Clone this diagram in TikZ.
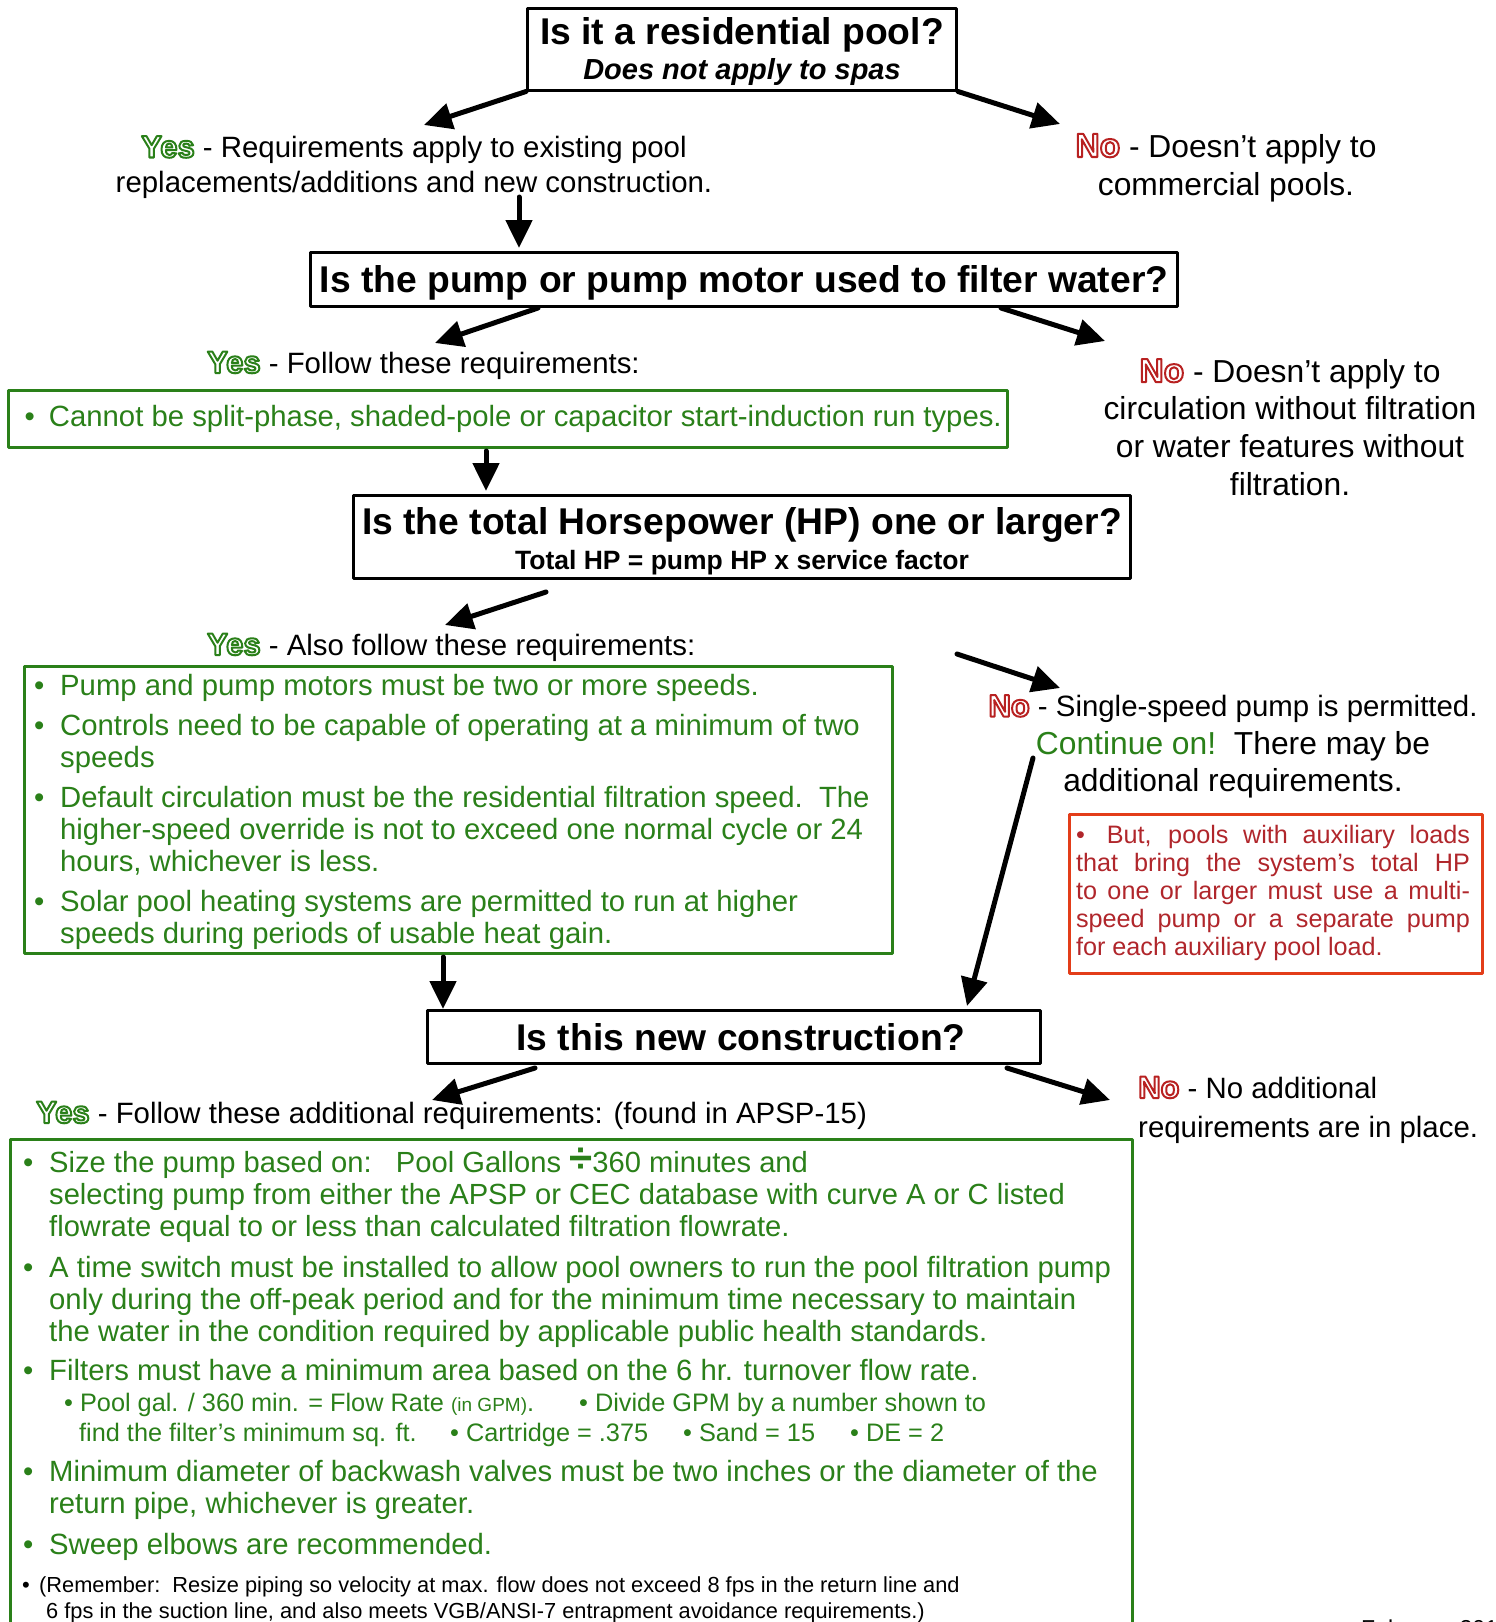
\documentclass[tikz,border=0pt]{standalone}
\usepackage{fontspec}
\setmainfont{Liberation Sans}
\usetikzlibrary{arrows.meta}
\definecolor{saxfra}{rgb}{0.165,0.5,0.1}
\definecolor{bsssss}{rgb}{0.72,0.13,0.13}
\definecolor{estdrb}{rgb}{0.89,0.24,0.1}
\definecolor{bqsasa}{rgb}{0.69,0.15,0.17}
% outlined Yes / No (stroked glyphs)
\newcommand{\yesmark}[1][31]{{\fontsize{#1}{35}\selectfont\bfseries\special{pdf:code 1 Tr 2 w 0.165 0.5 0.1 RG}Yes\special{pdf:code 0 Tr 0 G}}}
\newcommand{\nomark}[1][31]{{\fontsize{#1}{35}\selectfont\bfseries\special{pdf:code 1 Tr 2 w 0.72 0.13 0.13 RG}No\special{pdf:code 0 Tr 0 G}}}
\tikzset{
  qbox/.style={draw,line width=3pt,inner sep=0pt,align=center,font=\fontsize{37.25}{35}\selectfont\bfseries},
  reqbox/.style={draw=saxfra,line width=3pt,inner sep=0pt},
  txt/.style={inner sep=0pt,font=\fontsize{29.4}{35}\selectfont},
  bigtxt/.style={inner sep=0pt,font=\fontsize{31.8}{38}\selectfont},
  reqtxt/.style={inner sep=0pt,align=left,text=saxfra,font=\fontsize{29.3}{32}\selectfont},
  subtxt/.style={inner sep=0pt,text=saxfra,font=\fontsize{25.3}{30}\selectfont},
}
\begin{document}
\begin{tikzpicture}[line cap=round,line join=round,>={Triangle[length=28pt,width=26pt]},x=1pt,y=-1pt]
\useasboundingbox (0,0) rectangle (1496,1622);
\clip (0,0) rectangle (1496,1622);
%% questions
\node (q1) [qbox,minimum width=429pt,minimum height=82pt] at (742,49) {\rule{0pt}{33pt}Is it a residential pool?\\{\fontsize{29}{35}\selectfont\itshape Does not apply to spas}};
\node (q2) [qbox,minimum width=867pt,minimum height=54pt] at (744,279) {\rule{0pt}{35pt}Is the pump or pump motor used to filter water?};
\node (q3) [qbox,minimum width=777pt,minimum height=83pt] at (742,537) {\rule{0pt}{35pt}Is the total Horsepower (HP) one or larger?\\{\fontsize{26.5}{35}\selectfont Total HP = pump HP x service factor}};
\node (q4) [qbox,minimum width=613pt,minimum height=53pt] at (734,1037) {\hspace{14pt}Is this new construction?};
%% answers
\node (yesres) [txt,align=center,anchor=base] at (414,192.5) {\yesmark{} - Requirements apply to existing pool\\replacements/additions and new construction.};
\node (nores) [bigtxt,align=center,anchor=base] at (1226,195) {\nomark[33.5]{} - Doesn’t apply to\\commercial pools.};
\node (yesfilt) [txt,anchor=base west] at (207,373) {\yesmark{} - Follow these requirements:};
\node (nofilt) [bigtxt,align=center,anchor=base,font=\fontsize{31.8}{37.8}\selectfont] at (1290,495.5) {\nomark[33.5]{} - Doesn’t apply to\\circulation without filtration\\or water features without\\filtration.};
\node (yeshp) [txt,anchor=base west] at (207,655) {\yesmark{} - Also follow these requirements:};
\node (nohp) [txt,align=center,anchor=base,font=\fontsize{29.4}{37.5}\selectfont] at (1233,791.5) {\nomark{} - Single-speed pump is permitted.\\{\fontsize{31.8}{37.5}\selectfont{\color{saxfra}Continue on!}\ \ There may be}\\{\fontsize{31.8}{37.5}\selectfont additional requirements.}};
\node (yesnew) [txt,anchor=base west] at (36,1123) {\yesmark{} - Follow these additional requirements: (found in APSP-15)};
\node (nonew) [txt,align=left,anchor=base west,font=\fontsize{29.4}{39}\selectfont] at (1138,1137) {\nomark{} - No additional\\requirements are in place.};
%% requirement boxes
\node (req1) [reqbox,minimum width=999pt,minimum height=57pt,text=saxfra,font=\fontsize{29.3}{32}\selectfont] at (508,419) {\hspace*{10.5pt}•\hspace{14pt}Cannot be split-phase, shaded-pole or capacitor start-induction run types.};
\node (req2) [reqbox,minimum width=868pt,minimum height=287pt] at (458,809.5) {};
\node (b1) [reqtxt,anchor=base west] at (34,695) {•};
\node (r2a) [reqtxt,anchor=base west] at (60,695) {Pump and pump motors must be two or more speeds.};
\node (b2) [reqtxt,anchor=base west] at (34,735) {•};
\node (r2b) [reqtxt,anchor=base west] at (60,767) {Controls need to be capable of operating at a minimum of two\\speeds};
\node (b3) [reqtxt,anchor=base west] at (34,807) {•};
\node (r2c) [reqtxt,anchor=base west] at (60,871) {Default circulation must be the residential filtration speed.\ \ The\\higher-speed override is not to exceed one normal cycle or 24\\hours, whichever is less.};
\node (b4) [reqtxt,anchor=base west] at (34,911) {•};
\node (r2d) [reqtxt,anchor=base west] at (60,943) {Solar pool heating systems are permitted to run at higher\\speeds during periods of usable heat gain.};
\node (aux) [draw=estdrb,line width=3pt,minimum width=413pt,minimum height=159pt,inner sep=0pt] at (1275.5,893.5) {};
\node (auxtxt) [inner sep=0pt,text width=394pt,align=justify,text=bqsasa,font=\fontsize{25.2}{28}\selectfont,anchor=north] at (1273,825) {•\hspace{22pt}But, pools with auxiliary loads\linebreak that bring the system’s total HP\linebreak to one or larger must use a multi-\linebreak speed pump or a separate pump\linebreak for each auxiliary pool load.};
\node (req3) [reqbox,minimum width=1122pt,minimum height=561pt] at (571,1419.5) {};
\node (b5) [reqtxt,anchor=base west] at (23,1172) {•};
\node (r3a) [reqtxt,anchor=base west,font=\fontsize{29.15}{32}\selectfont] at (49,1236) {Size the pump based on:\ \ \ Pool Gallons {\fontsize{42}{32}\selectfont\bfseries ÷}360 minutes and\\selecting pump from either the APSP or CEC database with curve A or C listed\\flowrate equal to or less than calculated filtration flowrate.};
\node (b6) [reqtxt,anchor=base west] at (23,1277) {•};
\node (r3b) [reqtxt,anchor=base west] at (49,1341) {A time switch must be installed to allow pool owners to run the pool filtration pump\\only during the off-peak period and for the minimum time necessary to maintain\\the water in the condition required by applicable public health standards.};
\node (b7) [reqtxt,anchor=base west] at (23,1380) {•};
\node (r3c) [reqtxt,anchor=base west] at (49,1380) {Filters must have a minimum area based on the 6 hr. turnover flow rate.};
\node (s1) [subtxt,anchor=base west] at (64,1411) {• Pool gal. / 360 min. = Flow Rate {\fontsize{19}{20}\selectfont (in GPM)}.};
\node (s2) [subtxt,anchor=base west] at (579,1411) {• Divide GPM by a number shown to};
\node (s3) [subtxt,anchor=base west] at (79,1441) {find the filter’s minimum sq. ft.};
\node (s4) [subtxt,anchor=base west] at (450,1441) {• Cartridge = .375};
\node (s5) [subtxt,anchor=base west] at (683,1441) {• Sand = 15};
\node (s6) [subtxt,anchor=base west] at (850,1441) {• DE = 2};
\node (b8) [reqtxt,anchor=base west] at (23,1481.5) {•};
\node (r3d) [reqtxt,anchor=base west] at (49,1513.5) {Minimum diameter of backwash valves must be two inches or the diameter of the\\return pipe, whichever is greater.};
\node (b9) [reqtxt,anchor=base west] at (23,1554) {•};
\node (r3e) [reqtxt,anchor=base west] at (49,1554) {Sweep elbows are recommended.};
\node (b10) [inner sep=0pt,anchor=base west,font=\fontsize{22}{26}\selectfont] at (22,1592) {•};
\node (remark) [inner sep=0pt,align=left,anchor=base west,font=\fontsize{21.8}{26}\selectfont] at (39,1618) {(Remember:\ \ Resize piping so velocity at max. flow does not exceed 8 fps in the return line and\\\hspace*{7pt}6 fps in the suction line, and also meets VGB/ANSI-7 entrapment avoidance requirements.)};
\node (date) [inner sep=0pt,anchor=base west,font=\fontsize{23}{28}\selectfont] at (1361,1636) {February 2013};
%% arrows
\coordinate (a1) at (424,125);
\coordinate (a2) at (1060,124);
\coordinate (t3) at (519,197);
\coordinate (a3) at (519,248);
\coordinate (t4) at (538,308);
\coordinate (a4) at (435,343);
\coordinate (t5) at (1001,308);
\coordinate (a5) at (1105,341);
\coordinate (t6) at (486,451);
\coordinate (a6) at (486,491);
\coordinate (t7) at (546,592);
\coordinate (a7) at (445,625);
\coordinate (t8) at (957,654);
\coordinate (a8) at (1060,688);
\coordinate (t9) at (1033,758);
\coordinate (a9) at (967,1006);
\coordinate (t10) at (443,957);
\coordinate (a10) at (443,1009);
\coordinate (t11) at (535,1068);
\coordinate (a11) at (432,1100);
\coordinate (t12) at (1007,1068);
\coordinate (a12) at (1110,1100);
\draw [->,line width=5pt] (q1.south west) -- (a1);
\draw [->,line width=5pt] (q1.south east) -- (a2);
\draw [->,line width=5pt] (t3) -- (a3);
\draw [->,line width=5pt] (t4) -- (a4);
\draw [->,line width=5pt] (t5) -- (a5);
\draw [->,line width=5pt] (t6) -- (a6);
\draw [->,line width=5pt] (t7) -- (a7);
\draw [->,line width=5pt] (t8) -- (a8);
\draw [->,line width=5pt] (t9) -- (a9);
\draw [->,line width=5pt] (t10) -- (a10);
\draw [->,line width=5pt] (t11) -- (a11);
\draw [->,line width=5pt] (t12) -- (a12);
\end{tikzpicture}
\end{document}
